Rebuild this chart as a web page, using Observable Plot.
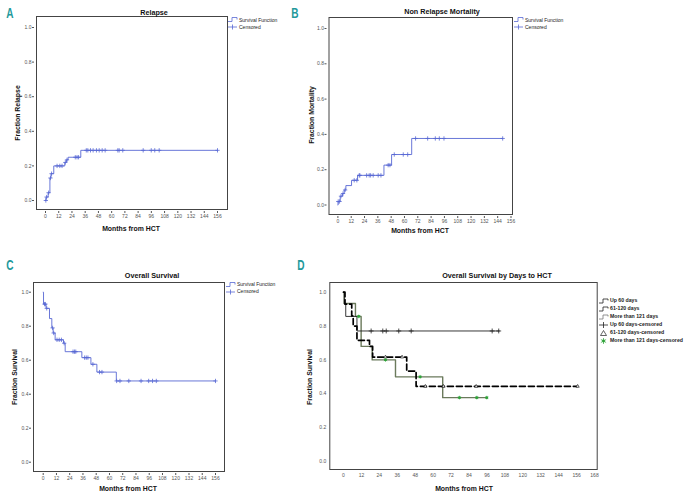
<!DOCTYPE html>
<html><head><meta charset="utf-8">
<script src="https://cdn.jsdelivr.net/npm/d3@7"></script>
<script src="https://cdn.jsdelivr.net/npm/@observablehq/plot@0.6"></script>
<style>
body{margin:0;background:#fff;}
#page{position:relative;width:698px;height:501px;overflow:hidden;font-family:"Liberation Sans",Arial,sans-serif;background:#fff;}
.abs{position:absolute;white-space:nowrap;line-height:1;}
.letter{font-weight:bold;font-size:14px;color:#23999b;transform:translate(-50%,-50%) scaleX(0.72);}
.title{font-weight:bold;font-size:8px;color:#111;transform:translate(-50%,-50%) scaleX(0.9);}
.xlab{font-weight:bold;font-size:8px;color:#111;transform:translate(-50%,-50%) scaleX(0.86);}
.ylab{font-weight:bold;font-size:8px;color:#111;transform:translate(-50%,-50%) rotate(-90deg) scaleX(0.86);}
.leg{font-size:5px;color:#222;}
.leg .row{display:flex;align-items:center;height:7px;}
.leg svg{margin-right:1px;overflow:visible;}
.legD{font-size:5.2px;font-weight:bold;color:#222;}
.legD .row{display:flex;align-items:center;height:8px;}
.legD svg{margin-right:2px;overflow:visible;}
</style>
</head><body>
<div id="page"></div>
<script>
// ---------- DATA ----------
const monthTicks156 = [0,12,24,36,48,60,72,84,96,108,120,132,144,156];
const monthTicks168 = [0,12,24,36,48,60,72,84,96,108,120,132,144,156,168];
const fractionTicks = [0,0.2,0.4,0.6,0.8,1.0];

// A: Relapse
const relapseTime  = [0, 0.5, 2.4, 4, 5, 7.5, 17.5, 19, 20.5, 32, 156];
const relapseValue = [0, 0.02, 0.045, 0.13, 0.155, 0.2, 0.22, 0.235, 0.25, 0.29, 0.29];
const relapseCensored = [0.3, 1, 2.8, 4.5, 5.5, 10.5, 13, 15, 18, 19.5, 27, 28.6, 30, 37, 38.4, 40.8, 43.2, 46.2, 48.7, 51.4, 54.1, 65.6, 66.8, 70.1, 88.6, 95.9, 99.1, 103.1, 156];

// B: Non Relapse Mortality
const nrmTime  = [0, 0.2, 2.1, 4.2, 5.7, 7.2, 12.3, 17.7, 41.5, 48.4, 66.5, 148.5];
const nrmValue = [0, 0.02, 0.05, 0.065, 0.085, 0.11, 0.14, 0.168, 0.226, 0.286, 0.377, 0.377];
const nrmCensored = [0.3, 1.5, 2.8, 4.6, 6.5, 14.7, 17.1, 19.2, 19.8, 25.9, 28.2, 29.5, 31.8, 36.3, 38.8, 45.3, 46.9, 50.8, 58.9, 62.9, 70, 80.9, 87.8, 91.4, 95.6, 148.5];

// C: Overall Survival
const osTime  = [0, 0.3, 2.6, 5.7, 7.8, 9, 10.8, 18.4, 19.9, 35, 43.2, 48.6, 66.2, 156];
const osValue = [1, 0.93, 0.905, 0.845, 0.79, 0.76, 0.72, 0.70, 0.65, 0.615, 0.576, 0.53, 0.478, 0.478];
const osCensored = [1.2, 2.0, 3.2, 8.5, 9.5, 12.5, 14.5, 16.5, 19.0, 27, 28.3, 29.5, 37.5, 39, 40.5, 45, 51, 53.2, 66.5, 69.5, 77.5, 88.6, 95.5, 99, 102.4, 156];

// D: Overall Survival by Days to HCT
const up60Time  = [0, 0.5, 1.5, 9, 104.3];
const up60Value = [1, 0.93, 0.857, 0.771, 0.771];
const up60Censored = [18.5, 26.3, 28.6, 37, 45.3, 99.5, 103.9];

const d61Time  = [0, 1, 5.5, 6.5, 9, 17.4, 19.5, 42.3, 48.6, 156.7];
const d61Value = [1, 0.93, 0.86, 0.80, 0.716, 0.68, 0.617, 0.534, 0.444, 0.444];
const d61Censored = [28.1, 39.2, 54.8, 66.9, 88.8, 156.7];

const gt121Time  = [0, 0.5, 8, 11.8, 19.2, 34.8, 66.4, 95.9];
const gt121Value = [1, 0.933, 0.857, 0.68, 0.60, 0.50, 0.377, 0.377];
const gt121Censored = [10.2, 28.1, 51.3, 77.6, 89.2, 95.9];

const legendKM = ["Survival Function", "Censored"];
const legendD = ["Up 60 days", "61-120 days", "More than 121 days", "Up 60 days-censored", "61-120 days-censored", "More than 121 days-censored"];

// ---------- HELPERS ----------
const blue = "#5868d4";
const page = document.getElementById("page");
const rows = (times, values) => times.map((t, i) => ({t, v: values[i]}));
function stepAt(times, values, t) { let v = values[0]; for (let i = 0; i < times.length; i++) if (times[i] <= t) v = values[i]; return v; }
const cens = (times, values, cts) => cts.map(t => ({t, v: stepAt(times, values, t)}));

function addText(cls, txt, x, y) {
  const d = document.createElement("div");
  d.className = "abs " + cls; d.textContent = txt;
  d.style.left = x + "px"; d.style.top = y + "px";
  page.appendChild(d);
}

function panel({box, frame, xDomain, xRange, yRange, xTicks, marks, tickSize, tickPadding, xdy, ydx}) {
  const [left, top, width, height] = box;
  const [L, T, R, B] = frame;
  const svg = Plot.plot({
    width, height,
    marginLeft: L - left, marginTop: T - top, marginRight: left + width - R, marginBottom: top + height - B,
    x: {domain: xDomain, range: xRange.map(d => d - left)},
    y: {domain: [0, 1], range: yRange.map(d => d - top)},
    style: {background: "transparent", overflow: "visible", fontFamily: "Liberation Sans, Arial, sans-serif"},
    marks: [
      Plot.axisX({ticks: xTicks, tickSize, tickPadding, fontSize: 5, dy: xdy, label: null, color: "#555", tickFormat: d => d}),
      Plot.axisY({ticks: fractionTicks, tickFormat: d3.format(".1f"), tickSize, tickPadding, fontSize: 5, dx: ydx, label: null, color: "#555"}),
      ...marks,
      Plot.frame({stroke: "#444", strokeWidth: 1})
    ]
  });
  svg.style.position = "absolute"; svg.style.left = left + "px"; svg.style.top = top + "px";
  svg.style.maxWidth = "none";
  page.appendChild(svg);
}

function kmLegend(x, y, color) {
  const d = document.createElement("div");
  d.className = "abs leg"; d.style.left = x + "px"; d.style.top = y + "px";
  d.innerHTML =
    `<div class="row"><svg width="10" height="6"><path d="M0,4.5H4V0.5H9V2.5" fill="none" stroke="${color}" stroke-width="0.8"/></svg><span>${legendKM[0]}</span></div>` +
    `<div class="row"><svg width="10" height="6"><path d="M0,3H9M4.5,0.5V5.5" fill="none" stroke="${color}" stroke-width="0.8"/></svg><span>${legendKM[1]}</span></div>`;
  page.appendChild(d);
}

function kmPanel({box, frame, xRange, yRange, times, values, censored}) {
  panel({box, frame, xDomain: [0, 156], xRange, yRange, xTicks: monthTicks156, tickSize: 2, tickPadding: 1, xdy: 2, ydx: -2,
    marks: [
      Plot.line(rows(times, values), {x: "t", y: "v", curve: "step-after", stroke: blue, strokeWidth: 0.9}),
      Plot.dot(cens(times, values, censored), {x: "t", y: "v", symbol: "plus", r: 1.5, stroke: blue, strokeWidth: 0.8})
    ]});
}

// ---------- PANEL A ----------
kmPanel({box: [0, 0, 290, 250], frame: [36, 16, 227, 209], xRange: [45, 217], yRange: [200, 27],
  times: relapseTime, values: relapseValue, censored: relapseCensored});
addText("letter", "A", 9.5, 12.5);
addText("title", "Relapse", 154, 12.5);
addText("xlab", "Months from HCT", 131, 229);
addText("ylab", "Fraction Relapse", 18, 113);
kmLegend(228, 16.5, blue);

// ---------- PANEL B ----------
kmPanel({box: [290, 0, 408, 250], frame: [328.5, 17, 512, 214], xRange: [337.4, 510.5], yRange: [204.5, 28],
  times: nrmTime, values: nrmValue, censored: nrmCensored});
addText("letter", "B", 295, 12.5);
addText("title", "Non Relapse Mortality", 442, 12);
addText("xlab", "Months from HCT", 420, 231);
addText("ylab", "Fraction Mortality", 311.5, 115);
kmLegend(514, 16.5, blue);

// ---------- PANEL C ----------
kmPanel({box: [0, 250, 292, 251], frame: [33, 282, 224, 471], xRange: [42.7, 215], yRange: [461.7, 291.7],
  times: osTime, values: osValue, censored: osCensored});
addText("letter", "C", 10, 265);
addText("title", "Overall Survival", 152, 276);
addText("xlab", "Months from HCT", 128, 489);
addText("ylab", "Fraction Survival", 15, 377);
kmLegend(226, 281, blue);

// ---------- PANEL D ----------
const green = "#6b7a5c";
const greenDot = "#2fa33a";
panel({box: [292, 250, 406, 251], frame: [329.3, 282, 596.7, 469], xDomain: [0, 168], xRange: [343, 594], yRange: [461, 291.7],
  xTicks: monthTicks168, tickSize: 0, tickPadding: 3.5, xdy: 0, ydx: 0,
  marks: [
    Plot.line(rows(gt121Time, gt121Value), {x: "t", y: "v", curve: "step-after", stroke: green, strokeWidth: 1.4}),
    Plot.line(rows(up60Time, up60Value), {x: "t", y: "v", curve: "step-after", stroke: "#222", strokeWidth: 0.9}),
    Plot.line(rows(d61Time, d61Value), {x: "t", y: "v", curve: "step-after", stroke: "#000", strokeWidth: 1.7, strokeDasharray: "6,3"}),
    Plot.dot(cens(up60Time, up60Value, up60Censored), {x: "t", y: "v", symbol: "plus", r: 1.7, stroke: "#222", strokeWidth: 0.8}),
    Plot.dot(cens(d61Time, d61Value, d61Censored), {x: "t", y: "v", symbol: "triangle", r: 1.2, stroke: "#000", fill: "white", strokeWidth: 0.6}),
    Plot.dot(cens(gt121Time, gt121Value, gt121Censored), {x: "t", y: "v", r: 1.4, fill: greenDot, stroke: "none"}),
    Plot.dot(cens(gt121Time, gt121Value, gt121Censored), {x: "t", y: "v", symbol: "asterisk", r: 1.8, stroke: greenDot, strokeWidth: 0.5})
  ]});
addText("letter", "D", 301, 265);
addText("title", "Overall Survival by Days to HCT", 497, 276);
addText("xlab", "Months from HCT", 464, 489);
addText("ylab", "Fraction Survival", 310, 377);

(function () {
  const sw = [
    `<path d="M0,5H4V1H9V2.5" fill="none" stroke="#222" stroke-width="0.8"/>`,
    `<path d="M0,5H4V1H9V2.5" fill="none" stroke="#222" stroke-width="0.8"/>`,
    `<path d="M0,5H4V1H9V2.5" fill="none" stroke="#777" stroke-width="0.8"/>`,
    `<path d="M0,3H9M4.5,0V6" fill="none" stroke="#222" stroke-width="0.8"/>`,
    `<path d="M4.5,0.5L7.5,5.5H1.5Z" fill="none" stroke="#222" stroke-width="0.7"/>`,
    `<circle cx="4.5" cy="3" r="1.4" fill="${greenDot}"/><path d="M4.5,0V6M1.9,1.5L7.1,4.5M1.9,4.5L7.1,1.5" stroke="${greenDot}" stroke-width="0.7"/>`
  ];
  const d = document.createElement("div");
  d.className = "abs legD"; d.style.left = "599px"; d.style.top = "296.5px";
  d.innerHTML = legendD.map((t, i) => `<div class="row"><svg width="9" height="6">${sw[i]}</svg><span>${t}</span></div>`).join("");
  page.appendChild(d);
})();
</script>
</body></html>
